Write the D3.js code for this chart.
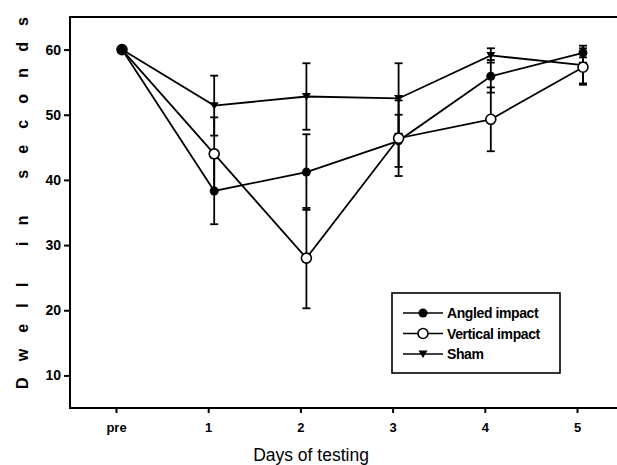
<!DOCTYPE html>
<html>
<head>
<meta charset="utf-8">
<script src="https://cdn.jsdelivr.net/npm/d3@7"></script>
<style>
  body { margin: 0; background: #fff; }
  svg { font-family: "Liberation Sans", Arial, sans-serif; }
</style>
</head>
<body>
<svg width="617" height="465"></svg>
<script>
var days = ["pre", "1", "2", "3", "4", "5"];
var angled = [60, 38.3, 41.2, 46, 55.9, 59.5];
var angledErr = [0, 5.1, 5.8, 4, 2.5, 0.7];
var vertical = [60, 44, 28, 46.4, 49.3, 57.3];
var verticalErr = [0, 5.6, 7.7, 5.8, 4.9, 2.5];
var sham = [60, 51.4, 52.8, 52.5, 59.1, 57.6];
var shamErr = [0, 4.6, 5.1, 5.4, 1.1, 3];
var yTicks = [10, 20, 30, 40, 50, 60];
var seriesNames = ["Angled impact", "Vertical impact", "Sham"];

var svg = d3.select("svg");

var x = d3.scalePoint().domain(days).range([122, 583]);
var y = d3.scaleLinear().domain([5, 65]).range([408, 17]);

function series(vals, errs) {
    return days.map(function(d, i) { return {day: d, v: vals[i], e: errs[i]}; });
}
var data = [
    {name: seriesNames[0], pts: series(angled, angledErr), sym: "fill"},
    {name: seriesNames[1], pts: series(vertical, verticalErr), sym: "open"},
    {name: seriesNames[2], pts: series(sham, shamErr), sym: "tri"}
];

// frame
svg.append("path")
   .attr("d", "M630," + y(65) + "H70V" + y(5) + "H630")
   .attr("fill", "none")
   .attr("stroke", "#000")
   .attr("stroke-width", 2);

// y axis
var yAxis = svg.append("g")
   .attr("transform", "translate(70,0)")
   .call(d3.axisLeft(y).tickValues(yTicks).tickSize(6).tickPadding(3));
yAxis.select(".domain").remove();
yAxis.selectAll("line").attr("stroke-width", 2);
yAxis.selectAll("text").attr("font-size", 14).attr("font-weight", "bold")
     .attr("font-family", "Liberation Sans, Arial, sans-serif");

// x axis (scan is shifted a few px relative to the points)
var xAxis = svg.append("g")
   .attr("transform", "translate(-6," + y(5) + ")")
   .call(d3.axisBottom(x).tickSize(5).tickPadding(10));
xAxis.select(".domain").remove();
xAxis.selectAll("line").attr("stroke-width", 2);
xAxis.selectAll("text").attr("font-size", 13).attr("font-weight", "bold")
     .attr("font-family", "Liberation Sans, Arial, sans-serif");

// axis titles
svg.append("text")
   .attr("x", 311).attr("y", 461)
   .attr("text-anchor", "middle")
   .attr("font-size", 17.5)
   .text("Days of testing");

svg.append("text")
   .attr("transform", "translate(28,203) rotate(-90)")
   .attr("text-anchor", "middle")
   .attr("font-size", 16)
   .attr("font-weight", "bold")
   .attr("textLength", 372)
   .attr("lengthAdjust", "spacing")
   .text("Dwell in seconds");

var line = d3.line()
   .x(function(d) { return x(d.day); })
   .y(function(d) { return y(d.v); });

svg.append("g").selectAll("path")
   .data(data).enter()
   .append("path")
   .attr("d", function(s) { return line(s.pts); })
   .attr("fill", "none")
   .attr("stroke", "#000")
   .attr("stroke-width", 1.8);

// error bars
data.forEach(function(s) {
    var g = svg.append("g").attr("stroke", "#000").attr("stroke-width", 1.8);
    var pts = s.pts.filter(function(d) { return d.e > 0; });
    g.selectAll("line.v").data(pts).enter().append("line")
     .attr("x1", function(d) { return x(d.day); })
     .attr("x2", function(d) { return x(d.day); })
     .attr("y1", function(d) { return y(d.v - d.e); })
     .attr("y2", function(d) { return y(d.v + d.e); });
    [1, -1].forEach(function(sign) {
        g.selectAll("line.c" + sign).data(pts).enter().append("line")
         .attr("x1", function(d) { return x(d.day) - 4; })
         .attr("x2", function(d) { return x(d.day) + 4; })
         .attr("y1", function(d) { return y(d.v + sign * d.e); })
         .attr("y2", function(d) { return y(d.v + sign * d.e); });
    });
});

function drawSym(g, sym, cx, cy) {
    if (sym === "fill") {
        g.append("circle").attr("cx", cx).attr("cy", cy).attr("r", 4.5).attr("fill", "#000");
    } else if (sym === "open") {
        g.append("circle").attr("cx", cx).attr("cy", cy).attr("r", 5)
         .attr("fill", "#fff").attr("stroke", "#000").attr("stroke-width", 1.6);
    } else {
        g.append("path")
         .attr("d", "M" + (cx - 4.5) + "," + (cy - 3.5) + "L" + (cx + 4.5) + "," + (cy - 3.5) + "L" + cx + "," + (cy + 4) + "Z")
         .attr("fill", "#000");
    }
}

// markers (sham, angled, then open circles on top)
[2, 0, 1].forEach(function(k) {
    var s = data[k];
    var g = svg.append("g");
    s.pts.forEach(function(d) { drawSym(g, s.sym, x(d.day), y(d.v)); });
});
// the shared baseline point shows the filled marker on top
var p0 = data[0].pts[0];
drawSym(svg.append("g"), "fill", x(p0.day), y(p0.v));

// legend
var lg = svg.append("g").attr("transform", "translate(392,293)");
lg.append("rect")
  .attr("width", 168).attr("height", 80)
  .attr("fill", "#fff").attr("stroke", "#000").attr("stroke-width", 1.6);
data.forEach(function(s, i) {
    var yy = 20 + i * 20.5;
    lg.append("line").attr("x1", 11).attr("x2", 51).attr("y1", yy).attr("y2", yy)
      .attr("stroke", "#000").attr("stroke-width", 1.6);
    drawSym(lg, s.sym, 31, yy);
    lg.append("text").attr("x", 55).attr("y", yy + 5)
      .attr("font-size", 14).attr("font-weight", "bold")
      .attr("letter-spacing", -0.4)
      .text(s.name);
});
</script>
</body>
</html>
